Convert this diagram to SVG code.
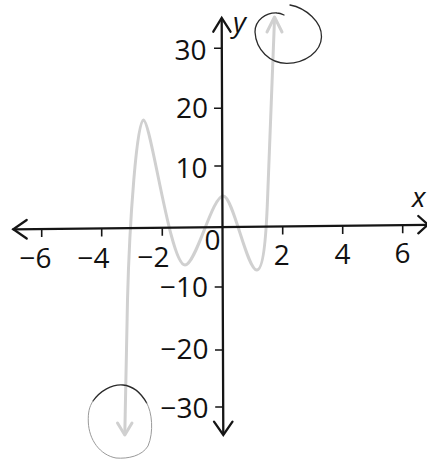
<svg xmlns="http://www.w3.org/2000/svg" width="427" height="461" viewBox="0 0 427 461">
<style>
.axis{fill:none;stroke:#151515;stroke-width:2.3;stroke-linecap:round;stroke-linejoin:miter}
.tick{fill:none;stroke:#151515;stroke-width:1.6}
.lbl{font-family:"Open Sans","Liberation Sans",sans-serif;font-size:28px;font-weight:500;fill:#111111}
.end{text-anchor:end}
.mid{text-anchor:middle}
.var{font-family:"Open Sans","Liberation Sans",sans-serif;font-size:28px;font-style:italic;font-weight:500;fill:#111111}
.curve{fill:none;stroke:#d0d0d0;stroke-width:3;stroke-linecap:round;stroke-linejoin:round}
.ring{fill:none;stroke:#2a2a2a;stroke-width:1.3;stroke-linecap:round}
.ringfaint{fill:none;stroke:#9a9a9a;stroke-width:1;stroke-linecap:round}
</style>
<rect width="427" height="461" fill="#ffffff"/>
<g id="curve">
<path class="curve" d="M124.8,434 L127.5,300 C129.5,220 137,120 143.3,120 C151,120 170,265 185,265 C196,265 212,196 223.3,196 C233,196 247,270 256.7,270 C263,270 266,240 267.5,200 L274.5,19"/>
<path class="curve" d="M267,32 L274.5,17 L282,32"/>
<path class="curve" d="M117.5,423 L124.8,435 L132,423"/>
</g>
<g id="axes">
<path class="axis" d="M13.3,229.3 L427,224.8"/>
<path class="axis" d="M26.7,220 L13.3,229.3 L26.7,238.5"/>
<path class="axis" d="M418.3,216 L428,224.6 L418.3,233.3"/>
<path class="axis" d="M221.7,19 L223.3,434"/>
<path class="axis" d="M213.3,31.7 L221.7,18 L230.5,31.7"/>
<path class="axis" d="M214,421.7 L223.3,435 L232.5,421.7"/>
</g>
<g id="ticks">
<path class="tick" d="M41.7,229 v8 M101.7,228.4 v8 M162.3,227.8 v8 M282.7,226.5 v8 M342.7,225.9 v8 M402.7,225.3 v8"/>
<path class="tick" d="M214,48.3 h8 M214,108.3 h8 M214.3,166 h8 M214.7,287 h8 M215,350 h8 M215.2,407 h8"/>
</g>
<g id="x-labels">
<text class="lbl end" x="51.5" y="268">−6</text>
<text class="lbl end" x="109.5" y="267.7">−4</text>
<text class="lbl end" x="169.5" y="266.7">−2</text>
<text class="lbl mid" x="212.5" y="250">0</text>
<text class="lbl mid" x="281.7" y="265">2</text>
<text class="lbl mid" x="342.5" y="263.5">4</text>
<text class="lbl mid" x="402.5" y="263">6</text>
</g>
<g id="y-labels">
<text class="lbl end" x="206.5" y="60">30</text>
<text class="lbl end" x="208" y="118.3">20</text>
<text class="lbl end" x="207.5" y="178">10</text>
<text class="lbl end" x="208" y="297">−10</text>
<text class="lbl end" x="208.5" y="359">−20</text>
<text class="lbl end" x="208.5" y="418">−30</text>
</g>
<g id="axis-names">
<text class="var" x="233" y="32">y</text>
<text class="var" x="412" y="207">x</text>
</g>
<g id="circle-top">
<path class="ring" d="M290,5 C306,8 322,22 321.5,37 C321,52 305,63 287,63.3 C270,63.5 256,50 255,32 C255,20 266,12.5 277,13 C280,13 282,14 284,15"/>
</g>
<g id="circle-bottom">
<path class="ring" d="M93,401 C100,391 112,384 123,385 C133,386 141,393 146.7,403"/>
<path class="ringfaint" d="M146.7,403 C152,412 154,432 148,446 C142,456 128,459 116,458 C100,455 89,440 88.3,422 C88,413 89,407 93,401"/>
</g>
</svg>
